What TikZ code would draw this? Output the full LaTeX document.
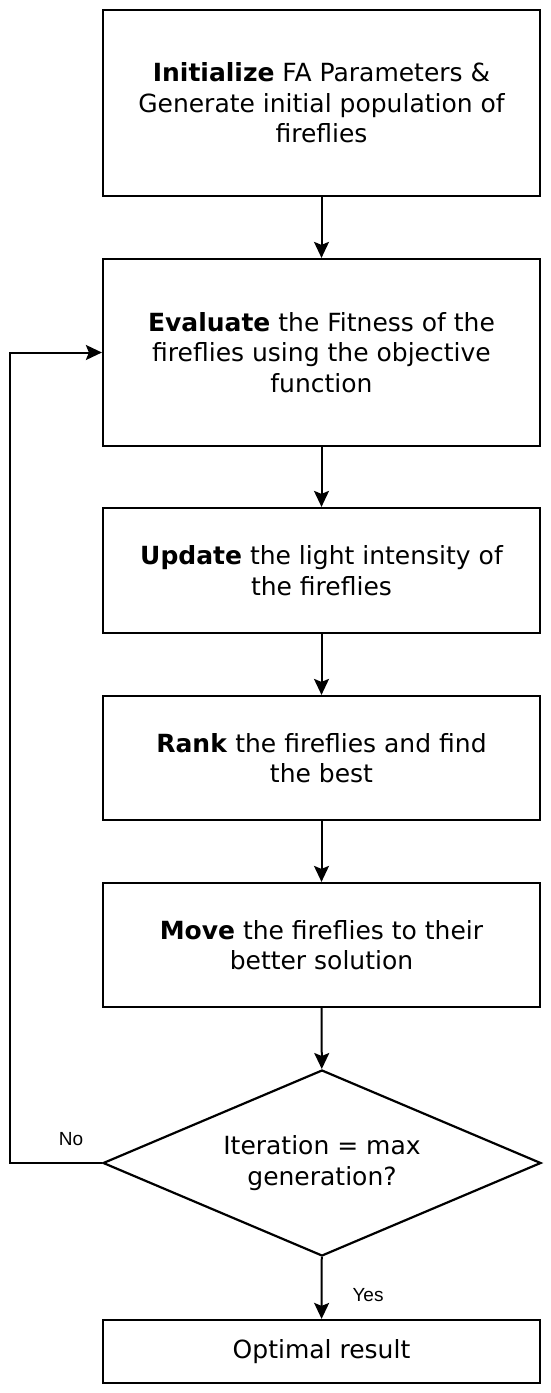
\documentclass[tikz,border=0pt]{standalone}
\usepackage{fontspec}
\setmainfont{DejaVu Sans}
\newfontfamily\arialf{Liberation Sans}
\usetikzlibrary{shapes.geometric,arrows.meta}
\begin{document}
\begin{tikzpicture}[x=1pt,y=-1pt,
  box/.style={draw, line width=2.2pt, minimum width=437pt, align=center, inner sep=0pt,
    font=\fontsize{25}{30.5}\selectfont},
  dec/.style={draw, diamond, line width=2.2pt, minimum width=438pt, minimum height=186pt,
    aspect=2.355, inner sep=0pt, align=center, font=\fontsize{25}{30.5}\selectfont},
  lbl/.style={font=\arialf\fontsize{19}{22}\selectfont, inner sep=0pt},
  conn/.style={line width=2pt, -{Stealth[length=16pt,width=15pt,inset=3pt]}}
]
\useasboundingbox (0,0) rectangle (550,1393);
\node[box, minimum height=186pt] (b1) at (321.5,103)
  {\textbf{Initialize} FA Parameters \&\\ Generate initial population of\\ fireflies};
\node[box, minimum height=187pt] (b2) at (321.5,352.5)
  {\textbf{Evaluate} the Fitness of the\\ fireflies using the objective\\ function};
\node[box, minimum height=125pt] (b3) at (321.5,570.5)
  {\textbf{Update} the light intensity of\\ the fireflies};
\node[box, minimum height=124pt] (b4) at (321.5,758)
  {\textbf{Rank} the fireflies and find\\ the best};
\node[box, minimum height=124pt] (b5) at (321.5,945)
  {\textbf{Move} the fireflies to their\\ better solution};
\node[dec] (d) at (322,1163) {Iteration = max\\ generation?};
\node[box, minimum height=63pt] (b6) at (321.5,1351.5) {Optimal result};
\coordinate (c) at (10,1163);
\draw[conn] (b1) -- (b2);
\draw[conn] (b2) -- (b3);
\draw[conn] (b3) -- (b4);
\draw[conn] (b4) -- (b5);
\draw[conn] (b5) -- (d);
\draw[conn] (d) -- (b6);
\draw[conn] (d.west) -- (c) |- (b2.west);
\node[lbl] (no) at (71,1139) {No};
\node[lbl] (yes) at (368,1295) {Yes};
\end{tikzpicture}
\end{document}
